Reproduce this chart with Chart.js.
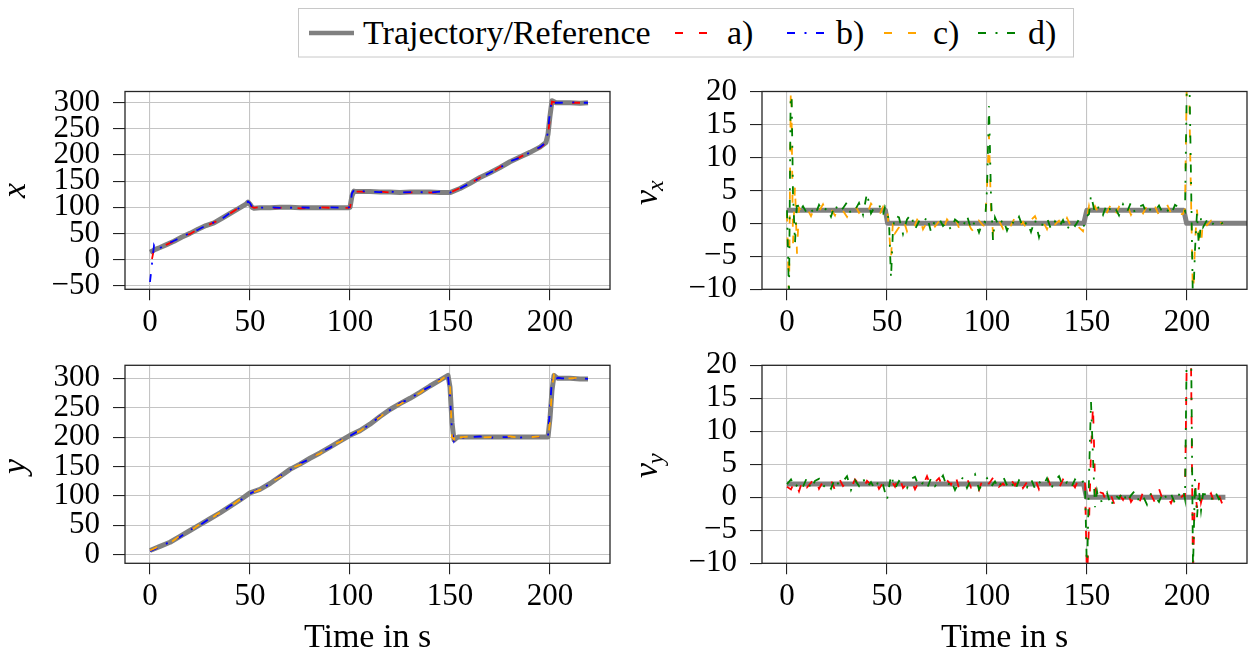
<!DOCTYPE html>
<html><head><meta charset="utf-8">
<script src="https://cdn.jsdelivr.net/npm/chart.js@4/dist/chart.umd.min.js"></script>
<style>
html,body{margin:0;padding:0;background:#fff;width:1250px;height:655px;overflow:hidden;position:relative;}
canvas{position:absolute;}
#legend{position:absolute;left:0;top:0;}
#legend text{font-family:'Liberation Serif';font-size:34px;}
</style></head><body>
<svg id="legend" width="1250" height="70" xmlns="http://www.w3.org/2000/svg"></svg>
<canvas id="cX" width="625" height="275" style="left:0px;top:75px"></canvas>
<canvas id="cVx" width="620" height="275" style="left:630px;top:75px"></canvas>
<canvas id="cY" width="625" height="309" style="left:0px;top:350px"></canvas>
<canvas id="cVy" width="620" height="309" style="left:630px;top:350px"></canvas>
<script>
// ---------------- DATA ----------------
const seriesNames = ['Trajectory/Reference', 'a)', 'b)', 'c)', 'd)'];
const xTickLabels = [0, 50, 100, 150, 200];
const posXTicks = [-50, 0, 50, 100, 150, 200, 250, 300];
const posYTicks = [0, 50, 100, 150, 200, 250, 300];
const velTicks = [-10, -5, 0, 5, 10, 15, 20];

// x position
const timeX = [0,1,2,3,5,8,12,16,20,24,28,32,36,40,44,48,49,50,51,52,55,60,65,70,75,80,85,90,95,99,100,101,102,103,105,110,115,120,125,130,135,140,145,150,155,160,165,170,175,180,185,190,195,198,199,200,201,202,203,205,210,215,219];
const xRef = [14,16,18,20,23,28,35,43,50,58,65,70,79,88,97,106,110,106,100,98,99,99,100,100,99,99,99,99,99,99,100,122,131,130,130,130,129,129,128,129,129,129,128,128,136,146,157,166,176,187,196,205,215,224,240,275,304,302,300,300,300,299,300];
const xA = [null,1,20,17,22,28,35,44,49,58,64,71,78,88,98,105,108,104,101,99,100,98,99,100,98,99,100,99,98,99,100,118,131,130,130,129,130,128,129,128,130,128,129,128,137,145,157,165,177,186,196,206,214,223,238,272,302,301,300,299,300,300,300];
const xB = [-43,-8,27,18,22,29,36,43,51,57,65,71,78,89,97,107,111,108,101,99,99,100,99,99,100,99,99,100,99,99,101,127,133,130,131,130,129,130,128,129,129,128,130,128,136,146,156,166,176,188,195,205,215,224,245,285,305,299,300,300,301,300,300];

// y position
const timeY = [0,5,10,15,20,25,30,35,40,45,50,55,60,65,70,75,80,85,90,95,100,105,110,115,120,125,130,135,140,145,149,150,151,152,153,154,156,160,165,170,175,180,185,190,195,199,200,201,202,203,204,206,210,215,219];
const yRef = [7,14,21,31,41,51,61,71,82,93,105,111,121,133,145,154,164,173,183,193,203,211,222,235,247,257,266,276,287,297,305,285,225,195,198,200,200,200,200,200,200,200,200,200,200,200,232,280,305,302,300,300,300,299,299];
const yB = [6,13,22,30,42,50,62,70,83,92,104,112,120,134,144,155,163,174,182,194,202,212,221,236,246,258,265,277,286,298,304,270,210,193,199,201,199,200,201,199,200,200,199,201,200,201,250,300,290,299,301,300,300,300,299];
const yC = [7,15,20,32,40,52,60,72,81,94,105,110,122,132,146,153,165,172,184,192,204,210,223,234,248,256,267,275,288,296,306,288,200,196,211,199,200,201,199,200,200,201,199,200,201,199,225,285,306,301,300,299,300,301,299];

// v_x
const timeVxRef = [0,49.2,50.3,148.4,149.9,198.4,199.8,235];
const vxRef = [2,2,0,0,2,2,0,0];
const timeVx = [0,1,2,3,4,5,6,
  8,10,12,14,16,18,20,22,24,26,28,30,32,34,36,38,40,42,44,46,48,
  49,50,51,52,53,54,
  56,58,60,62,64,66,68,70,72,74,76,78,80,82,84,86,88,90,92,94,96,98,
  99,100,101,102,103,104,
  106,108,110,112,114,116,118,120,122,124,126,128,130,132,134,136,138,140,142,144,146,148,
  149,150,151,152,
  154,156,158,160,162,164,166,168,170,172,174,176,178,180,182,184,186,188,190,192,194,196,
  198,199,200,201,202,203,204,205,206,207,208,
  210,212,214,216,218];
const vxC = [1.5,-12,24,-3,5.8,-4.6,2.4,
  1.4,2.3,1.1,2.6,1.8,2.9,1.5,2.2,1.2,2.7,1.9,1.0,2.4,2.8,1.6,2.1,1.3,3.0,2.2,1.1,2.5,
  1.6,2.3,-1.0,-5.3,0.5,-1.5,
  -0.6,0.8,-1.2,0.4,-0.3,1.3,-0.9,0.2,0.7,-0.5,0.3,-1.1,0.6,-0.2,0.9,-0.7,0.1,0.5,-0.8,-1.5,0.4,-0.3,
  -0.4,5.5,13.4,1.8,-1.4,0.6,
  0.4,-0.8,0.6,-0.3,0.9,-0.6,0.2,-1.0,0.5,1.1,-0.4,0.3,-0.9,0.7,-0.2,0.4,-0.7,0.8,-0.5,0.3,-0.6,-1.2,
  0.3,0.9,2.6,1.2,
  2.6,1.4,2.3,1.7,2.9,1.2,2.5,1.9,2.8,1.3,2.4,2.0,1.5,2.7,1.8,2.6,1.2,2.2,2.9,1.6,2.3,1.4,
  1.4,2.3,24,21,4,-12,-3,2.1,-2.3,-3.5,0.6,
  -0.3,0.4,-0.6,0.3,-0.1];
const vxD = [2,-11,26,4.5,-3,3.5,1.8,
  2.6,1.5,2.2,1.2,2.8,1.7,2.4,1.0,2.9,1.6,2.3,3.2,1.4,2.0,3.1,1.3,4.6,1.5,2.6,2.9,1.2,
  2.5,1.8,0.3,-8.3,-0.8,1.2,
  0.9,-1.6,0.6,1.4,-0.9,0.3,-0.2,1.1,-1.3,0.5,0.8,-0.4,0.2,-1.0,0.6,0.1,-0.6,1.2,-0.9,0.3,-1.4,0.4,
  0.2,5.2,17.8,4.0,-2.6,0.9,
  -0.5,0.7,-1.1,0.4,-0.2,1.0,-0.7,0.3,-1.3,0.6,-2.1,0.2,0.8,-0.9,0.3,-0.6,0.5,-1.0,0.2,-0.4,0.6,-0.5,
  -0.2,1.1,1.4,4.3,
  1.5,2.6,1.3,3.0,1.8,2.4,1.2,2.9,1.7,3.2,1.6,2.5,2.8,1.4,2.3,1.9,2.7,1.5,2.1,1.3,2.8,2.4,
  2.2,1.8,23,26,7,-13,-4,1.6,-4.0,0.8,-0.6,
  0.5,-0.4,0.3,-0.2,0.1];

// v_y
const timeVyRef = [0,148.3,149.7,219.2];
const vyRef = [2,2,0,0];
const timeVy = [0,2,4,6,8,10,12,14,16,18,20,22,24,26,28,30,32,34,36,38,40,42,44,46,48,50,52,54,56,58,60,62,64,66,68,70,72,74,76,78,80,82,84,86,88,90,92,94,96,98,100,102,104,106,108,110,112,114,116,118,120,122,124,126,128,130,132,134,136,138,140,142,144,146,148,
  149,150,151,152,153,154,155,156,
  158,160,162,164,166,168,170,172,174,176,178,180,182,184,186,188,190,192,194,196,198,
  199,200,201,202,203,204,205,206,207,208,
  210,212,214,216,218];
const vyA = [1.6,1.2,2.5,0.9,2.8,1.5,2.2,3.1,1.3,2.4,
  1.8,2.6,1.1,2.9,1.7,2.3,1.4,2.7,2.0,1.2,
  2.5,1.9,2.8,1.3,2.2,1.9,2.6,1.6,3.3,1.4,
  2.1,2.7,1.2,2.4,1.8,3.2,1.5,2.3,2.9,1.4,
  2.6,1.9,3.6,1.3,2.2,2.8,1.5,2.4,1.1,2.9,
  1.7,2.5,3.4,1.6,2.1,1.3,2.7,1.8,3.0,1.4,
  2.3,1.9,2.8,1.2,2.5,3.1,1.6,2.2,1.4,2.7,
  1.8,2.4,1.5,2.9,2.1,
  2.4,-13,-4,7,13.9,2.5,-0.6,0.8,
  0.6,-0.9,0.3,-1.3,0.5,-0.4,1.1,-0.7,0.2,-1.0,0.8,-0.3,0.4,-0.8,1.3,-0.5,0.2,-0.9,0.6,-0.4,0.3,
  0.2,24,22,21,-12,1.5,-1.6,2.2,-0.8,0.4,
  -0.4,0.6,-1.1,0.3,-1.3];
const vyD = [2.0,2.7,1.4,2.3,1.6,3.0,1.2,2.5,2.8,1.5,
  2.2,1.3,2.9,1.8,2.4,3.2,1.1,2.6,1.7,2.9,
  1.5,2.3,1.2,2.7,1.9,-0.4,3.4,1.3,2.5,2.0,
  1.4,2.8,3.1,1.6,2.2,1.3,2.9,1.7,2.4,3.3,
  1.5,2.6,1.1,2.3,3.0,1.4,2.7,3.5,1.2,2.2,
  2.9,1.6,2.4,1.3,3.2,1.8,2.5,1.0,2.6,2.1,
  1.5,2.8,1.3,2.4,1.7,2.9,1.2,2.6,3.2,1.6,
  2.3,1.4,2.7,1.9,2.4,
  2.1,-12,3,14.5,6,-1.5,0.9,-0.7,
  -0.5,0.7,-1.4,0.4,-0.2,0.9,-0.8,0.3,1.0,-0.6,0.2,-1.1,0.6,0.1,-0.7,0.8,-0.3,0.5,-0.9,0.4,1.2,
  -0.3,26,23,25,-11,2.8,-3.0,1.0,-2.0,0.5,
  0.4,-0.5,0.9,-0.3,0.2];

// ---------------- STYLE ----------------
const FONT = '"Liberation Serif"';
Chart.defaults.font.family = FONT;
Chart.defaults.color = '#000';
const STY = {
  ref: {color: '#808080', width: 5, dash: [], order: 10},
  a: {color: '#ff0000', width: 1.8, dash: [8, 16], order: 4},
  b: {color: '#0000ff', width: 1.8, dash: [8, 9.5, 2, 9.5], order: 3},
  c: {color: '#ffa500', width: 1.8, dash: [8, 16], order: 2},
  d: {color: '#008000', width: 1.8, dash: [8, 9.5, 2, 9.5], order: 1}
};
const keys = ['ref', 'a', 'b', 'c', 'd'];

// legend (SVG, real text)
(function () {
  const lay = [{x1: 309, x2: 354, tx: 363}, {x1: 675, x2: 712, tx: 727}, {x1: 787, x2: 826, tx: 836},
               {x1: 884, x2: 920, tx: 933}, {x1: 978, x2: 1017, tx: 1028}];
  let s = '<rect x="298.5" y="8.5" width="775" height="48.5" fill="#fff" stroke="#c8c8c8" stroke-width="1"/>';
  keys.forEach((k, i) => {
    const st = STY[k];
    s += `<line x1="${lay[i].x1}" y1="33" x2="${lay[i].x2}" y2="33" stroke="${st.color}" stroke-width="${k === 'ref' ? 4.5 : 2}"` +
         (st.dash.length ? ` stroke-dasharray="${st.dash.join(' ')}"` : '') + '/>';
    s += `<text x="${lay[i].tx}" y="44" fill="#000">${seriesNames[i]}</text>`;
  });
  document.getElementById('legend').innerHTML = s;
})();

function pts(t, v) { return t.map((x, i) => ({x: x, y: v[i]})); }
function fmt(v) { return v < 0 ? '\u2212' + Math.abs(v) : String(v); }

const framePlugin = {
  id: 'frame',
  afterDraw(chart) {
    const {ctx, chartArea: a} = chart;
    ctx.save();
    ctx.strokeStyle = '#262626';
    ctx.lineWidth = 1.3;
    ctx.strokeRect(a.left, a.top, a.right - a.left, a.bottom - a.top);
    ctx.restore();
  }
};
const yTitlePlugin = {
  id: 'yTitle',
  afterDraw(chart, args, o) {
    if (!o || !o.main) return;
    const ctx = chart.ctx;
    ctx.save();
    ctx.translate(o.x, o.y);
    ctx.rotate(-Math.PI / 2);
    ctx.fillStyle = '#000';
    ctx.textBaseline = 'alphabetic';
    ctx.textAlign = 'left';
    ctx.font = 'italic 34px "Liberation Serif"';
    ctx.fillText(o.main, 0, 0);
    if (o.sub) {
      const w = ctx.measureText(o.main).width;
      ctx.font = 'italic 24px "Liberation Serif"';
      ctx.fillText(o.sub, w - 1, 6);
    }
    ctx.restore();
  }
};

function makeChart(id, cfg) {
  const cv = document.getElementById(id);
  const W = cv.width, H = cv.height, A = cfg.area;
  const datasets = cfg.series.map(s => {
    const st = STY[s.key];
    return {
      data: pts(s.t, s.v), borderColor: st.color, borderWidth: st.width, borderDash: st.dash,
      order: st.order, pointRadius: 0, tension: 0, fill: false, spanGaps: false,
      borderCapStyle: 'butt', borderJoinStyle: s.key === 'ref' ? 'round' : 'miter'
    };
  });
  return new Chart(cv, {
    type: 'line',
    data: {datasets},
    plugins: [framePlugin, yTitlePlugin],
    options: {
      responsive: false, animation: false, devicePixelRatio: 1,
      layout: {autoPadding: false, padding: {left: 0, top: A.top, right: W - A.right, bottom: 0}},
      plugins: {legend: {display: false}, tooltip: {enabled: false}, title: {display: false}, yTitle: cfg.yTitle},
      scales: {
        x: {
          type: 'linear', min: -12.5, max: 230,
          afterBuildTicks: s => { s.ticks = xTickLabels.map(v => ({value: v})); },
          afterFit: s => { s.height = H - A.bottom; s.paddingLeft = 0; s.paddingRight = 0; },
          grid: {color: '#c4c4c4', lineWidth: 1.1, tickColor: '#222', tickLength: 11, drawTicks: true},
          border: {display: false},
          ticks: {font: {size: 31, family: FONT}, color: '#000', padding: 3.5, maxRotation: 0, autoSkip: false, callback: fmt},
          title: cfg.xTitle ? {display: true, text: cfg.xTitle, color: '#000', font: {size: 34, family: FONT}, padding: {top: 0, bottom: 1}} : {display: false}
        },
        y: {
          type: 'linear', min: cfg.yMin, max: cfg.yMax,
          afterBuildTicks: s => { s.ticks = cfg.yTicks.map(v => ({value: v})); },
          afterFit: s => { s.width = A.left; s.paddingTop = 0; s.paddingBottom = 0; },
          grid: {color: '#c4c4c4', lineWidth: 1.1, tickColor: '#222', tickLength: 12, drawTicks: true},
          border: {display: false},
          ticks: {font: {size: 31, family: FONT}, color: '#000', padding: 13, autoSkip: false, callback: fmt}
        }
      }
    }
  });
}

makeChart('cX', {
  area: {left: 125, right: 610, top: 16.5, bottom: 214.3},
  yMin: -57, yMax: 321.5, yTicks: posXTicks,
  yTitle: {main: 'x', x: 25, y: 123},
  series: [{key: 'ref', t: timeX, v: xRef}, {key: 'a', t: timeX, v: xA}, {key: 'b', t: timeX, v: xB}]
});
makeChart('cVx', {
  area: {left: 132, right: 617, top: 16.5, bottom: 214.3},
  yMin: -10, yMax: 20, yTicks: velTicks,
  yTitle: {main: 'v', sub: 'x', x: 27, y: 130},
  series: [{key: 'ref', t: timeVxRef, v: vxRef}, {key: 'c', t: timeVx, v: vxC}, {key: 'd', t: timeVx, v: vxD}]
});
makeChart('cY', {
  area: {left: 125, right: 610, top: 15.3, bottom: 213.3},
  yMin: -14.8, yMax: 322.2, yTicks: posYTicks, xTitle: 'Time in s',
  yTitle: {main: 'y', x: 25, y: 124},
  series: [{key: 'ref', t: timeY, v: yRef}, {key: 'b', t: timeY, v: yB}, {key: 'c', t: timeY, v: yC}]
});
makeChart('cVy', {
  area: {left: 132, right: 617, top: 15.3, bottom: 213.3},
  yMin: -10, yMax: 20, yTicks: velTicks, xTitle: 'Time in s',
  yTitle: {main: 'v', sub: 'y', x: 27, y: 128},
  series: [{key: 'ref', t: timeVyRef, v: vyRef}, {key: 'a', t: timeVy, v: vyA}, {key: 'd', t: timeVy, v: vyD}]
});
</script>
</body></html>
